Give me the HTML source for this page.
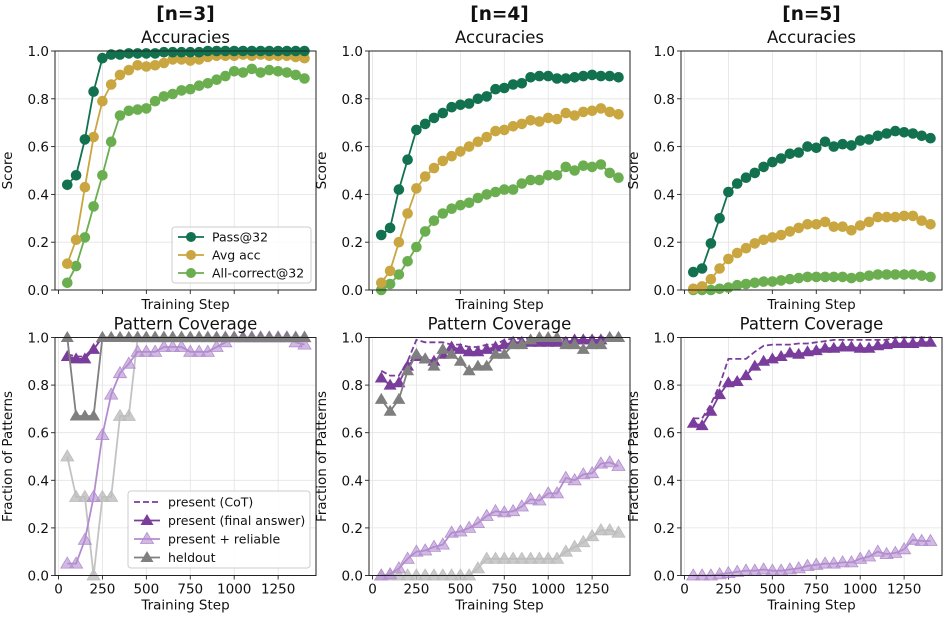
<!DOCTYPE html>
<html><head><meta charset="utf-8"><style>
body{margin:0;background:#fff;}
svg{display:block;font-family:"DejaVu Sans","Liberation Sans",sans-serif;}
</style></head><body>
<svg id="s" width="947" height="623" xmlns="http://www.w3.org/2000/svg"></svg>
<script>
const S=document.getElementById('s');let h='';
const lefts=[55,369,681],W=261;
const rows=[{t:51,b:290},{t:337.5,b:575.5}];
const steps=[];for(let i=50;i<=1400;i+=50)steps.push(i);
function X(p,s){return lefts[p]+3.5+s*0.1757;}
function Y(r,v){const R=rows[r];return R.b-(R.b-R.t)*v;}
const C={pass:'#12714f',avg:'#c9a640',all:'#6aae4f',pur:'#7a3d9c',lpur:'#b38ccf',dg:'#7f7f7f',lg:'#bdbdbd'};
const acc=[
[[0.44,0.48,0.63,0.83,0.97,0.985,0.985,0.99,0.99,0.99,0.99,0.995,0.995,0.995,0.995,0.995,1,1,1,1,1,1,1,1,1,1,1,1],
[0.11,0.21,0.43,0.64,0.79,0.86,0.90,0.92,0.94,0.935,0.94,0.95,0.965,0.965,0.96,0.965,0.975,0.98,0.98,0.98,0.985,0.98,0.985,0.98,0.98,0.98,0.975,0.97],
[0.03,0.10,0.22,0.35,0.48,0.62,0.73,0.75,0.755,0.76,0.79,0.81,0.82,0.835,0.84,0.855,0.865,0.88,0.895,0.915,0.91,0.925,0.91,0.92,0.915,0.91,0.90,0.885]],
[[0.23,0.26,0.42,0.545,0.67,0.695,0.72,0.74,0.765,0.775,0.78,0.80,0.81,0.84,0.845,0.86,0.865,0.89,0.895,0.895,0.885,0.885,0.89,0.895,0.90,0.895,0.895,0.89],
[0.03,0.08,0.20,0.32,0.425,0.475,0.51,0.54,0.56,0.58,0.60,0.62,0.64,0.665,0.67,0.685,0.695,0.71,0.705,0.72,0.715,0.74,0.73,0.745,0.75,0.76,0.745,0.735],
[0.00,0.025,0.065,0.12,0.18,0.245,0.29,0.32,0.34,0.355,0.365,0.385,0.40,0.41,0.42,0.42,0.445,0.46,0.46,0.48,0.48,0.515,0.50,0.52,0.515,0.525,0.49,0.47]],
[[0.075,0.09,0.195,0.30,0.41,0.445,0.47,0.49,0.515,0.535,0.55,0.57,0.575,0.60,0.595,0.62,0.60,0.61,0.605,0.625,0.63,0.645,0.655,0.665,0.66,0.655,0.645,0.635],
[0.005,0.015,0.045,0.09,0.13,0.155,0.175,0.195,0.21,0.22,0.23,0.245,0.26,0.275,0.275,0.285,0.265,0.265,0.25,0.27,0.285,0.305,0.305,0.305,0.31,0.31,0.29,0.275],
[0,0,0,0.005,0.01,0.02,0.025,0.03,0.035,0.035,0.04,0.045,0.05,0.055,0.055,0.055,0.055,0.055,0.05,0.055,0.06,0.065,0.065,0.065,0.065,0.065,0.06,0.055]]];
const one=n=>Array(n).fill(1);
const cov=[
{cot:[0.93,0.92,0.92,0.96].concat(one(24)),fin:[0.92,0.91,0.91,0.95].concat(one(24)),
 rel:[0.05,0.05,0.15,0.33,0.59,0.76,0.85,0.89,0.94,0.94,0.94,0.96,0.96,0.96,0.94,0.94,0.94,0.96,0.98,1,1,1,1,1,1,1,0.98,0.97],
 hl:[0.5,0.33,0.33,0.0,0.33,0.33,0.67,0.67].concat(one(20)),hd:[1,0.67,0.67,0.67].concat(one(24))},
{cot:[0.86,0.84,0.84,0.90,0.99,0.98,0.98,0.98,0.97,0.97,0.96,0.96,0.97,0.97,0.99,0.995,0.995,0.995,0.995,0.995,0.995,0.995,0.995,1,1,1,1,1],
 fin:[0.83,0.80,0.81,0.88,0.92,0.91,0.90,0.93,0.96,0.95,0.94,0.94,0.95,0.96,0.97,0.98,0.98,0.98,0.98,0.98,0.98,0.98,0.99,0.99,0.99,0.99,1,1],
 hd:[0.74,0.69,0.74,0.86,0.93,0.91,0.88,0.95,0.93,0.90,0.86,0.88,0.88,0.93,0.93,0.97,0.97,0.99,1,1,1,0.97,0.97,0.95,0.97,0.97,1,1],
 rel:[0,0.005,0.03,0.07,0.10,0.105,0.12,0.13,0.18,0.185,0.20,0.22,0.25,0.27,0.265,0.27,0.29,0.32,0.315,0.345,0.345,0.41,0.40,0.425,0.43,0.47,0.475,0.46],
 hl:[0,0,0,0,0,0,0,0,0,0,0,0.03,0.07,0.07,0.07,0.07,0.07,0.07,0.07,0.07,0.07,0.10,0.12,0.14,0.165,0.19,0.19,0.18]},
{cot:[0.66,0.66,0.72,0.80,0.91,0.91,0.91,0.94,0.965,0.97,0.97,0.97,0.975,0.975,0.98,0.985,0.99,0.99,0.99,0.99,0.99,0.99,0.99,1,1,1,1,1],
 fin:[0.64,0.63,0.69,0.76,0.81,0.815,0.84,0.88,0.90,0.91,0.92,0.935,0.93,0.94,0.945,0.955,0.955,0.96,0.96,0.955,0.955,0.965,0.97,0.975,0.975,0.975,0.98,0.98],
 rel:[0,0,0,0.005,0.01,0.015,0.02,0.02,0.025,0.02,0.02,0.025,0.03,0.04,0.045,0.05,0.05,0.055,0.055,0.07,0.08,0.10,0.09,0.095,0.11,0.15,0.145,0.145]}];
function pts(p,r,d){return d.map((v,i)=>X(p,steps[i]).toFixed(1)+','+Y(r,v).toFixed(1)).join(' ');}
function tri(x,y,c,op){x=+x;y=+y;
 const a=(x).toFixed(1),l=(x-6.5).toFixed(1),rr=(x+6.5).toFixed(1),t=(y-6.5).toFixed(1),b=(y+4.5).toFixed(1);
 return `<polygon points="${a},${t} ${l},${b} ${rr},${b}" fill="${c}" ${op?'fill-opacity="'+op+'" stroke="'+c+'" stroke-width="0.8"':''}/>`;}
function series(p,r,d,c,mk,opts={}){
 let s=`<polyline points="${pts(p,r,d)}" fill="none" stroke="${c}" stroke-width="${opts.w||1.8}" ${opts.dash?'stroke-dasharray="6,3"':''} ${opts.op?'stroke-opacity="'+opts.op+'"':''}/>`;
 d.forEach((v,i)=>{const x=X(p,steps[i]),y=Y(r,v);
  if(mk==='c')s+=`<circle cx="${x.toFixed(1)}" cy="${y.toFixed(1)}" r="5.3" fill="${c}"/>`;
  else if(mk==='t')s+=tri(x,y,c,opts.mop);});
 return s;}
for(let p=0;p<3;p++){
 for(let r=0;r<2;r++){
  const L=lefts[p],R=rows[r];
  h+=`<clipPath id="c${p}${r}"><rect x="${L}" y="${R.t-7}" width="${W}" height="${R.b-R.t+14}"/></clipPath>`;
  for(let t=0;t<=1250;t+=250){const x=X(p,t);h+=`<line x1="${x}" x2="${x}" y1="${R.t}" y2="${R.b}" stroke="#e3e3e3" stroke-width="0.8"/>`;
   h+=`<line x1="${x}" x2="${x}" y1="${R.b}" y2="${R.b+4}" stroke="#222" stroke-width="0.9"/>`;
   if(r===1)h+=`<text x="${x}" y="${R.b+18}" font-size="13.5" text-anchor="middle" fill="#111">${t}</text>`;}
  for(let k=0;k<=5;k++){const v=k/5,y=Y(r,v);h+=`<line x1="${L}" x2="${L+W}" y1="${y}" y2="${y}" stroke="#e3e3e3" stroke-width="0.8"/>`;
   h+=`<line x1="${L-4}" x2="${L}" y1="${y}" y2="${y}" stroke="#222" stroke-width="0.9"/>`;
   h+=`<text x="${L-6}" y="${y+5}" font-size="13.5" text-anchor="end" fill="#111">${v.toFixed(1)}</text>`;}
  h+=`<g clip-path="url(#c${p}${r})">`;
  if(r===0){const a=acc[p];h+=series(p,0,a[2],C.all,'c')+series(p,0,a[1],C.avg,'c')+series(p,0,a[0],C.pass,'c');}
  else{const c=cov[p];
   if(c.hl)h+=series(p,1,c.hl,C.lg,'t',{op:0.9,mop:0.8});
   h+=series(p,1,c.rel,C.lpur,'t',{mop:0.6});
   h+=series(p,1,c.cot,C.pur,'',{dash:1});
   h+=series(p,1,c.fin,C.pur,'t');
   if(c.hd)h+=series(p,1,c.hd,C.dg,'t');}
  h+=`</g>`;
  h+=`<rect x="${L}" y="${R.t}" width="${W}" height="${R.b-R.t}" fill="none" stroke="#222" stroke-width="1"/>`;
  h+=`<text x="${L+W/2}" y="${R.b+(r?34:19)}" font-size="13.5" text-anchor="middle" fill="#111">Training Step</text>`;
  const yl=r?'Fraction of Patterns':'Score',cy=(R.t+R.b)/2;
  h+=`<text x="${L-43}" y="${cy}" font-size="13.5" text-anchor="middle" transform="rotate(-90 ${L-43} ${cy})" fill="#111">${yl}</text>`;
  h+=`<text x="${L+W/2}" y="${R.t-8}" font-size="16.5" text-anchor="middle" fill="#111">${r?'Pattern Coverage':'Accuracies'}</text>`;
 }
 h+=`<text x="${lefts[p]+W/2}" y="20" font-size="18.5" font-weight="bold" text-anchor="middle" fill="#111">[n=${p+3}]</text>`;
}
h+=`<rect x="172" y="227" width="139" height="56" rx="3" fill="#fff" fill-opacity="0.85" stroke="#ccc"/>`;
[['Pass@32',C.pass],['Avg acc',C.avg],['All-correct@32',C.all]].forEach((e,i)=>{const y=237+i*18;
 h+=`<line x1="178" x2="204" y1="${y}" y2="${y}" stroke="${e[1]}" stroke-width="1.8"/><circle cx="191" cy="${y}" r="5" fill="${e[1]}"/><text x="212" y="${y+4.5}" font-size="12.5" fill="#111">${e[0]}</text>`;});
h+=`<rect x="128" y="491" width="182" height="77" rx="3" fill="#fff" fill-opacity="0.85" stroke="#ccc"/>`;
const lg=[['present (CoT)',C.pur,'d'],['present (final answer)',C.pur,'t'],['present + reliable',C.lpur,'t'],['heldout',C.dg,'t']];
lg.forEach((e,i)=>{const y=502+i*18.5;
 h+=`<line x1="134" x2="160" y1="${y}" y2="${y}" stroke="${e[1]}" stroke-width="1.8" ${e[2]==='d'?'stroke-dasharray="6,3"':''}/>`;
 if(e[2]==='t')h+=tri(147,y,e[1],i===2?0.6:0);
 h+=`<text x="168" y="${y+4.5}" font-size="12.5" fill="#111">${e[0]}</text>`;});
S.innerHTML=h;
</script>
</body></html>
